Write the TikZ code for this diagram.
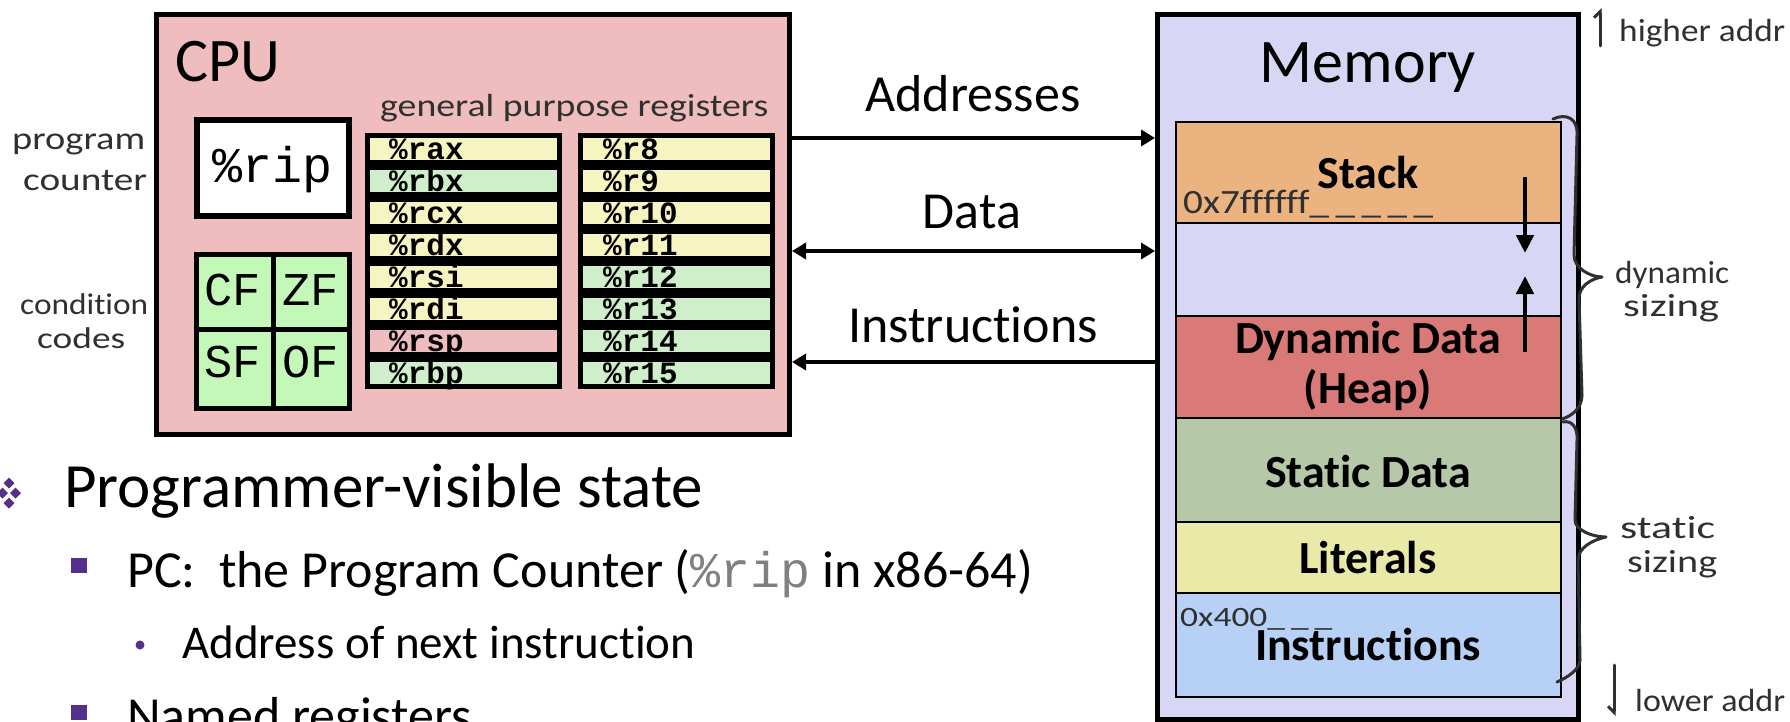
\documentclass[tikz,border=0pt]{standalone}
\usepackage{fontspec}
\usepackage{graphicx}
\setmainfont{Carlito}[Ligatures=NoCommon]
\newfontfamily\monofont{Liberation Mono}
\usetikzlibrary{arrows.meta}

\definecolor{cpubg}{RGB}{239,189,190}
\definecolor{regylw}{RGB}{246,244,193}
\definecolor{reggrn}{RGB}{207,238,202}
\definecolor{ccgrn}{RGB}{195,248,184}
\definecolor{membg}{RGB}{215,215,245}
\definecolor{stackc}{RGB}{234,179,128}
\definecolor{heapc}{RGB}{218,122,120}
\definecolor{staticc}{RGB}{181,201,169}
\definecolor{litc}{RGB}{233,233,168}
\definecolor{instrc}{RGB}{183,208,246}
\definecolor{purp}{RGB}{84,48,140}
\definecolor{ink}{RGB}{48,48,48}
\definecolor{ripgray}{RGB}{128,128,128}

\newcommand{\fsz}[1]{\fontsize{#1}{#1}\selectfont}
% hand-lettered notes: stretched to a given width, height kept
\newcommand{\hw}[2]{\resizebox{#1pt}{\height}{#2}}

\begin{document}
\begin{tikzpicture}[x=1pt,y=-1pt,
  frame/.style={draw=black, line width=5pt, inner sep=0pt},
  regbox/.style={draw=black, line width=5pt, inner sep=0pt, minimum width=192pt, minimum height=27pt},
  regtxt/.style={anchor=base west, inner sep=0pt, font=\monofont\bfseries\fsz{31}},
  cell/.style={draw=black, line width=5pt, inner sep=0pt, fill=ccgrn, minimum width=76.5pt},
  celltxt/.style={anchor=base, inner sep=0pt, font=\monofont\fsz{47}},
  seg/.style={draw=black, line width=2.5pt, inner sep=0pt, minimum width=385pt},
  segtxt/.style={anchor=base, inner sep=0pt, font=\bfseries\fsz{46}},
  title/.style={anchor=base, inner sep=0pt, font=\fsz{62}},
  buslbl/.style={anchor=base, inner sep=0pt, font=\fsz{52}},
  bus/.style={line width=4.5pt},
  hand/.style={anchor=base west, inner sep=0pt, text=ink, font=\fsz{32}},
  handline/.style={draw=ink, line width=3pt, line cap=round, line join=round},
  bul/.style={anchor=base west, inner sep=0pt},
]
\clip (0,0) rectangle (1790,722);
\useasboundingbox (0,0) rectangle (1790,722);

% ---------------- CPU ----------------
\node[frame, fill=cpubg, minimum width=633pt, minimum height=420pt] (cpu) at (473,224.5) {};
\node[title, anchor=base west] (cpu-t) at (175,82) {CPU};

% program counter
\node[frame, line width=6pt, fill=white, minimum width=152pt, minimum height=96pt] (rip) at (273,168) {};
\node[anchor=base, inner sep=0pt, font=\monofont\fsz{50}] (rip-t) at (273,183) {\%rip};

% condition codes
\node[cell, minimum height=74.5pt] (cf) at (234.75,291.75) {};
\node[cell, minimum height=74.5pt] (zf) at (311.25,291.75) {};
\node[cell, minimum height=79.5pt] (sf) at (234.75,368.75) {};
\node[cell, minimum height=79.5pt] (of) at (311.25,368.75) {};
\node[celltxt] (cf-t) at (233,305) {CF};
\node[celltxt] (zf-t) at (311,305) {ZF};
\node[celltxt] (sf-t) at (233,377) {SF};
\node[celltxt] (of-t) at (311,377) {OF};

% general purpose registers
\foreach \rname/\rcol [count=\i from 0] in {rax/regylw, rbx/reggrn, rcx/regylw, rdx/regylw, rsi/regylw, rdi/regylw, rsp/cpubg, rbp/reggrn} {
  \node[regbox, fill=\rcol] (\rname) at (463.5,{149+32*\i}) {};
  \node[regtxt] (\rname-t) at (389,{159.3+32*\i}) {\%\rname};
}
\foreach \rname/\rcol [count=\i from 0] in {r8/regylw, r9/regylw, r10/regylw, r11/regylw, r12/reggrn, r13/reggrn, r14/reggrn, r15/reggrn} {
  \node[regbox, fill=\rcol] (\rname) at (676.5,{149+32*\i}) {};
  \node[regtxt] (\rname-t) at (603,{159.3+32*\i}) {\%\rname};
}

% handwritten notes around the CPU
\node[hand] (gpr) at (380,117) {\hw{388}{general purpose registers}};
\node[hand] (pc1) at (12,150) {\hw{133}{program}};
\node[hand] (pc2) at (23,191) {\hw{124}{counter}};
\node[hand, font=\fsz{30}] (cc1) at (20,314) {\hw{128}{condition}};
\node[hand, font=\fsz{30}] (cc2) at (37,348) {\hw{88}{codes}};

% ---------------- Memory ----------------
\node[frame, fill=membg, minimum width=421pt, minimum height=705pt] (mem) at (1368,367) {};
\node[title] (mem-t) at (1368,83) {Memory};

\node[seg, fill=stackc, minimum height=101pt] (stack) at (1368.5,172.5) {};
\node[seg, fill=membg, minimum height=93pt] (gap) at (1368.5,269.5) {};
\node[seg, fill=heapc, minimum height=102pt] (heap) at (1368.5,367) {};
\node[seg, fill=staticc, minimum height=104pt] (static) at (1368.5,470) {};
\node[seg, fill=litc, minimum height=71pt] (lit) at (1368.5,557.5) {};
\node[seg, fill=instrc, minimum height=104pt] (instr) at (1368.5,645) {};

\node[segtxt] (stack-t) at (1368,189) {Stack};
\node[segtxt] (heap-t1) at (1368,353) {Dynamic Data};
\node[segtxt] (heap-t2) at (1368,403) {(Heap)};
\node[segtxt] (static-t) at (1368,487) {Static Data};
\node[segtxt] (lit-t) at (1368,573) {Literals};
\node[segtxt] (instr-t) at (1368,660) {Instructions};

% growth directions of stack and heap
\coordinate (sd0) at (1525,177);
\coordinate (sd1) at (1525,253);
\coordinate (hp0) at (1525,352);
\coordinate (hp1) at (1525,276);
\draw[bus, -{Triangle[length=18pt,width=17pt]}] (sd0) -- (sd1);
\draw[bus, -{Triangle[length=18pt,width=17pt]}] (hp0) -- (hp1);

% handwritten addresses
\node[hand, font=\fsz{34}] (top-addr) at (1183,214) {\hw{250}{0x7ffffff\_\,\_\,\_\,\_\,\_}};
\node[hand, font=\fsz{28}] (low-addr) at (1180,626) {\hw{152}{0x400\_\,\_\,\_}};

% ---------------- Buses ----------------
\coordinate (addr) at (0,138);
\coordinate (data) at (0,251);
\coordinate (ins) at (0,362);
\draw[bus, -{Triangle[length=14pt,width=16pt]}] (cpu.east |- addr) -- (mem.west |- addr);
\draw[bus, {Triangle[length=14pt,width=16pt]}-{Triangle[length=14pt,width=16pt]}] (cpu.east |- data) -- (mem.west |- data);
\draw[bus, -{Triangle[length=14pt,width=16pt]}] (mem.west |- ins) -- (cpu.east |- ins);
\node[buslbl] (addr-t) at (973,112) {Addresses};
\node[buslbl] (data-t) at (972,229) {Data};
\node[buslbl] (ins-t) at (973,342) {Instructions};

% ---------------- Notes right of memory ----------------
\coordinate (hiA) at (1600,46);
\coordinate (hiB) at (1600,8);
\draw[handline, -{Straight Barb[harpoon,length=6pt,width=12pt]}] (hiA) -- (hiB);
\node[hand] (hi-t) at (1619,42) {\hw{166}{higher addr}};

\coordinate (loA) at (1614,665);
\coordinate (loB) at (1614,716);
\draw[handline, -{Straight Barb[harpoon,swap,length=6pt,width=12pt]}] (loA) -- (loB);
\node[hand] (lo-t) at (1635,711) {\hw{150}{lower addr}};

% braces
\draw[handline] (1553,119) .. controls (1566,113) and (1578,118) .. (1577,135)
  -- (1574,255) .. controls (1574,268) and (1590,277) .. (1602,277)
  .. controls (1590,279) and (1578,287) .. (1579,300)
  -- (1582,395) .. controls (1582,408) and (1572,416) .. (1562,419);
\draw[handline] (1563,422) .. controls (1572,420) and (1578,428) .. (1577,440)
  -- (1575,520) .. controls (1575,530) and (1592,537) .. (1606,537)
  .. controls (1592,540) and (1578,548) .. (1578,560)
  -- (1580,660) .. controls (1580,670) and (1566,678) .. (1557,682);

\node[hand] (dyn1) at (1615,283) {\hw{114}{dynamic}};
\node[hand] (dyn2) at (1623,316) {\hw{96}{sizing}};
\node[hand] (sta1) at (1620,538) {\hw{95}{static}};
\node[hand] (sta2) at (1627,572) {\hw{90}{sizing}};

% ---------------- Bullet text ----------------
\foreach \bx/\by in {9/483, 15.5/493, 9/503, 2.5/493}
  \fill[purp] (\bx,\by-5.5) -- (\bx+5.5,\by) -- (\bx,\by+5.5) -- (\bx-5.5,\by) -- cycle;
\node[bul, font=\fsz{63}] (pvs) at (64,507) {Programmer-visible state};

\fill[purp] (71,558) rectangle (87,573);
\node[bul, font=\fsz{52}] (pc-t) at (127,587) {PC:\ \ the Program Counter ({\color{ripgray}\monofont\fsz{50}\%rip} in x86-64)};

\fill[purp] (140,645) circle (4.5);
\node[bul, font=\fsz{47}] (next-t) at (182,658) {Address of next instruction};

\fill[purp] (71,705) rectangle (87,720);
\node[bul, font=\fsz{52}] (named-t) at (127,733) {Named registers};
\end{tikzpicture}
\end{document}
